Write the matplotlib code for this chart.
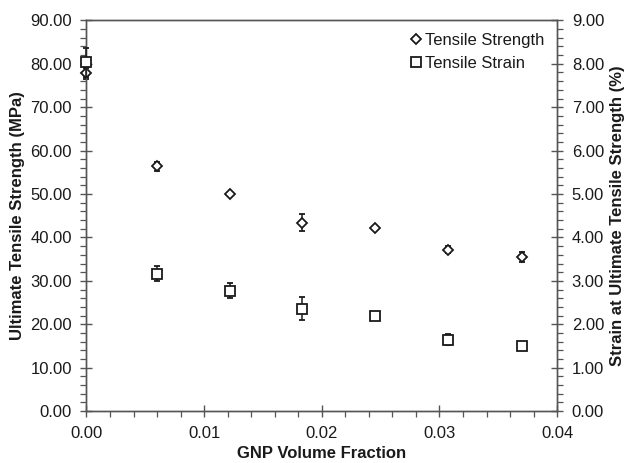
import matplotlib
matplotlib.use("Agg")
import matplotlib.pyplot as plt
from matplotlib.lines import Line2D
from matplotlib.ticker import MultipleLocator, FormatStrFormatter

plt.rcParams['font.family'] = ['Liberation Sans', 'DejaVu Sans']

gnp_fraction = [0.0, 0.006, 0.0122, 0.0183, 0.0245, 0.0307, 0.037]
strength_mpa = [77.8, 56.4, 49.9, 43.4, 42.1, 37.2, 35.5]
strength_err = [1.3, 1.0, 0.4, 2.0, 0.4, 0.8, 1.2]
strain_pct = [8.03, 3.17, 2.77, 2.36, 2.18, 1.65, 1.49]
strain_err = [0.33, 0.17, 0.17, 0.26, 0.05, 0.13, 0.05]

ink = '#1a1a1a'

fig = plt.figure(figsize=(6.31, 4.63), dpi=100)
ax = fig.add_axes([0.137, 0.112, 0.746, 0.844])
ax2 = ax.twinx()

h1 = ax.errorbar(gnp_fraction, strength_mpa, yerr=strength_err, fmt='D', ms=5.5,
                 mfc='white', mec=ink, mew=1.3, ecolor=ink, elinewidth=1.1,
                 capsize=2.5, capthick=1.1, zorder=3)
h2 = ax2.errorbar(gnp_fraction, strain_pct, yerr=strain_err, fmt='s', ms=7,
                  mfc='white', mec=ink, mew=1.3, ecolor=ink, elinewidth=1.1,
                  capsize=2.5, capthick=1.1, zorder=3)
for cont in (h1, h2):
    for art in cont.get_children():
        art.set_clip_on(False)

ax.set_xlim(0, 0.04)
ax.set_ylim(0, 90)
ax2.set_ylim(0, 9)

ax.xaxis.set_major_locator(MultipleLocator(0.01))
ax.xaxis.set_minor_locator(MultipleLocator(0.002))
ax.yaxis.set_major_locator(MultipleLocator(10))
ax.yaxis.set_minor_locator(MultipleLocator(2))
ax2.yaxis.set_major_locator(MultipleLocator(1))
ax2.yaxis.set_minor_locator(MultipleLocator(0.2))
ax.xaxis.set_major_formatter(FormatStrFormatter('%.2f'))
ax.yaxis.set_major_formatter(FormatStrFormatter('%.2f'))
ax2.yaxis.set_major_formatter(FormatStrFormatter('%.2f'))

for a in (ax, ax2):
    a.tick_params(which='major', direction='inout', length=9, width=1.0,
                  color='#555555', labelsize=12, labelcolor=ink, pad=6)
    a.tick_params(which='minor', direction='out', length=4, width=0.9,
                  color='#555555')
    for s in a.spines.values():
        s.set_color('#555555')
        s.set_linewidth(1.0)

ax.set_xlabel('GNP Volume Fraction', fontsize=12, fontweight='bold', color=ink, labelpad=4)
ax.set_ylabel('Ultimate Tensile Strength (MPa)', fontsize=12, fontweight='bold', color=ink)
ax2.set_ylabel('Strain at Ultimate Tensile Strength (%)', fontsize=12, fontweight='bold', color=ink)

lh1 = Line2D([], [], marker='D', ms=5.5, mfc='white', mec=ink, mew=1.3, ls='none')
lh2 = Line2D([], [], marker='s', ms=7, mfc='white', mec=ink, mew=1.3, ls='none')
leg = ax2.legend([lh1, lh2], ['Tensile Strength', 'Tensile Strain'], loc='upper right',
                 frameon=False, fontsize=12, handlelength=0.6, handletextpad=0.25,
                 borderaxespad=0.35, labelspacing=0.5)
for t in leg.get_texts():
    t.set_color(ink)

fig.savefig('out.png', dpi=100)
